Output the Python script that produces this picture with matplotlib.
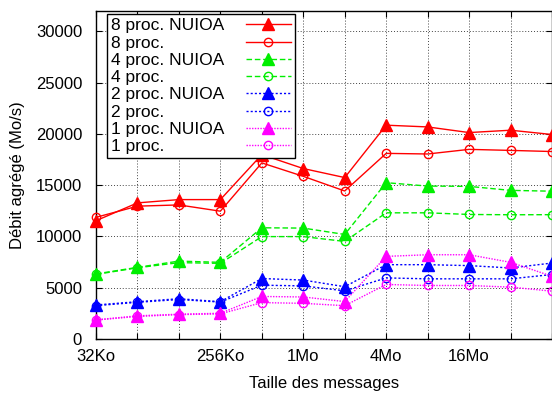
import matplotlib
matplotlib.use("Agg")
import matplotlib.pyplot as plt
from matplotlib.ticker import FixedLocator, FixedFormatter

plt.rcParams['font.family'] = ['Liberation Sans', 'DejaVu Sans']

sizes = ["32Ko", "64Ko", "128Ko", "256Ko", "512Ko", "1Mo", "2Mo", "4Mo", "8Mo", "16Mo", "32Mo", "64Mo"]
shown_labels = {"32Ko", "256Ko", "1Mo", "4Mo", "16Mo"}

p8_nuioa = [11540, 13280, 13600, 13600, 17990, 16630, 15750, 20860, 20690, 20140, 20370, 19950]
p8 = [11870, 12960, 13080, 12470, 17180, 15870, 14440, 18110, 18050, 18500, 18400, 18290]
p4_nuioa = [6350, 6990, 7600, 7480, 10850, 10820, 10200, 15250, 14920, 14890, 14500, 14420]
p4 = [6300, 6950, 7450, 7380, 9990, 9990, 9520, 12310, 12310, 12150, 12120, 12130]
p2_nuioa = [3320, 3640, 3930, 3640, 5900, 5750, 5100, 7250, 7250, 7160, 6930, 7410]
p2 = [3250, 3580, 3850, 3600, 5250, 5180, 4700, 5960, 5870, 5870, 5870, 6290]
p1_nuioa = [1870, 2260, 2420, 2510, 4150, 4100, 3650, 8060, 8220, 8220, 7480, 6120]
p1 = [1850, 2200, 2380, 2450, 3550, 3480, 3250, 5320, 5220, 5220, 5060, 4670]

series = [
    ("8 proc. NUIOA", p8_nuioa, "#ff0000", "-", "^"),
    ("8 proc.", p8, "#ff0000", "-", "o"),
    ("4 proc. NUIOA", p4_nuioa, "#00ee00", (0, (4, 2)), "^"),
    ("4 proc.", p4, "#00ee00", (0, (4, 2)), "o"),
    ("2 proc. NUIOA", p2_nuioa, "#0000ff", (0, (1.5, 1.5)), "^"),
    ("2 proc.", p2, "#0000ff", (0, (1.5, 1.5)), "o"),
    ("1 proc. NUIOA", p1_nuioa, "#ff00ff", (0, (1, 1)), "^"),
    ("1 proc.", p1, "#ff00ff", (0, (1, 1)), "o"),
]

fig = plt.figure(figsize=(5.52, 3.94), dpi=100)
ax = fig.add_axes([96/552, 55/394, 456/552, 328/394])

x = list(range(len(sizes)))
for label, vals, color, ls, mk in series:
    if mk == "^":
        ax.plot(x, vals, color=color, linestyle=ls, linewidth=1.0, marker="^",
                markersize=9, markerfacecolor=color, markeredgecolor=color,
                label=label, clip_on=False, zorder=3)
    else:
        ax.plot(x, vals, color=color, linestyle=ls, linewidth=1.0, marker="o",
                markersize=6, markerfacecolor="none", markeredgecolor=color,
                markeredgewidth=1.0, label=label, clip_on=False, zorder=3)

ax.set_xlim(0, len(sizes) - 1)
ax.set_ylim(0, 32000)
ax.xaxis.set_major_locator(FixedLocator(x))
ax.xaxis.set_major_formatter(FixedFormatter([s if s in shown_labels else "" for s in sizes]))
ax.set_yticks([0, 5000, 10000, 15000, 20000, 25000, 30000])
ax.tick_params(axis='both', direction='in', length=4, width=0.8, labelsize=12,
               top=True, right=True)
ax.tick_params(axis='y', pad=10)
ax.tick_params(axis='x', pad=7)
ax.grid(True, color="#444444", linestyle=(0, (1, 2)), linewidth=0.7)
ax.set_axisbelow(True)
for s in ax.spines.values():
    s.set_linewidth(1.0)

ax.set_xlabel("Taille des messages", fontsize=12, labelpad=9)
ax.set_ylabel("Débit agrégé (Mo/s)", fontsize=12, labelpad=8)

leg = ax.legend(loc="upper left", bbox_to_anchor=(11/456, 1 - 3/328), markerfirst=False,
                fontsize=12.5, frameon=True, fancybox=False, framealpha=1.0,
                edgecolor="black", labelspacing=0.12, handlelength=2.6,
                handletextpad=1.2, borderpad=0.25, borderaxespad=0.0)
leg.get_frame().set_linewidth(1.0)

# left-align legend text while keeping the samples on the right
renderer = fig.canvas.get_renderer()
cols = leg._legend_handle_box.get_children()
rows = [r for c in cols for r in c.get_children()]
wmax = max(r.get_bbox(renderer).width for r in rows)
for c in cols:
    c.align = "left"
for r in rows:
    r.width = wmax
    r.mode = "expand"

fig.savefig("out.png", dpi=100)
